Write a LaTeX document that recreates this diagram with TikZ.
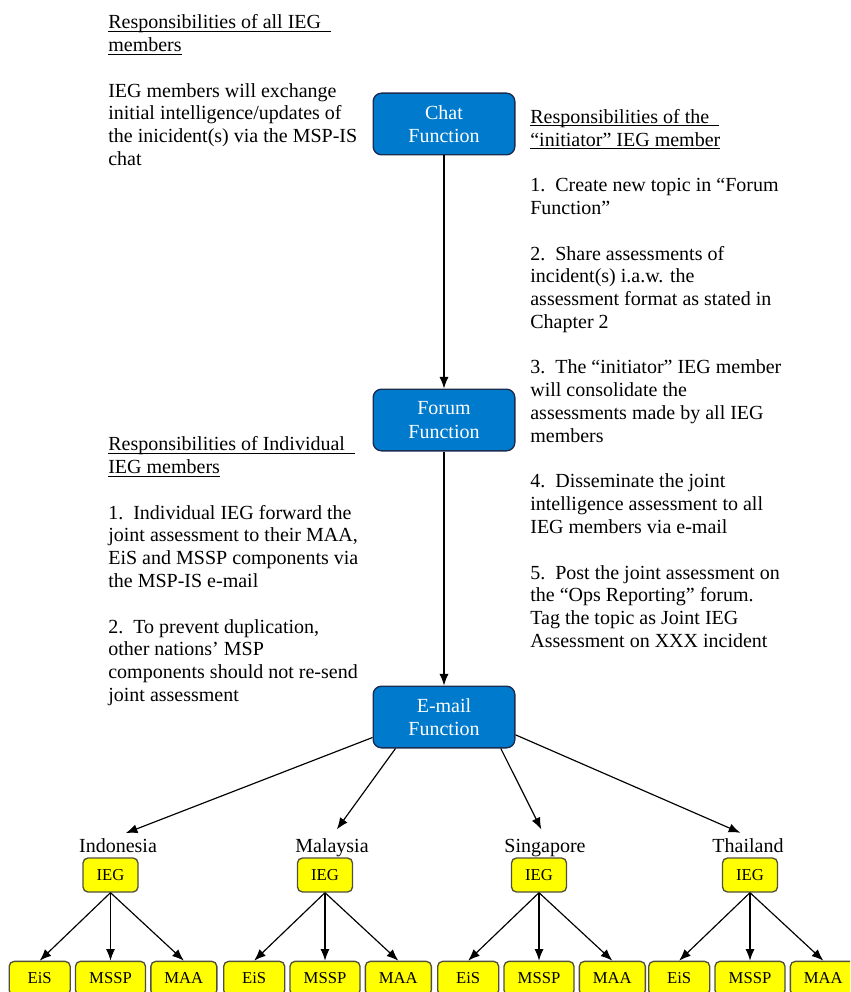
\documentclass[tikz,border=0pt]{standalone}
\usepackage{fontspec}
\setmainfont{Liberation Serif}
\usepackage{xcolor}
\usetikzlibrary{positioning}
\usetikzlibrary{arrows.meta}
\definecolor{funcblue}{RGB}{0,122,204}
\definecolor{funcline}{RGB}{25,45,80}
\definecolor{iegyellow}{RGB}{255,255,0}
\definecolor{iegline}{RGB}{80,80,60}
\newcommand{\ulhead}[1]{\underline{\smash{#1}}}

\begin{document}
\begin{tikzpicture}[x=0.6pt,y=-0.6pt]

                \def\d{40.8pt}
                \def\g{2.4pt}

                % Looks of the boxes, the notes and the arrows
                \tikzset{
                    func/.style={draw=funcline, fill=funcblue, text=white,
                        rounded corners=5pt, thick, minimum width=85pt,
                        minimum height=37pt, align=center,
                        font=\fontsize{12}{14}\selectfont},
                    box/.style={draw=iegline, fill=iegyellow, thick,
                        rounded corners=3pt, minimum height=20.4pt,
                        inner sep=0pt, font=\fontsize{10}{12}\selectfont},
                    iegbox/.style={box, minimum width=33pt},
                    eisbox/.style={box, minimum width=36.6pt},
                    msspbox/.style={box, minimum width=42pt},
                    maabox/.style={box, minimum width=39.6pt},
                    note/.style={anchor=north west, inner sep=0pt,
                        align=left, font=\fontsize{12}{13.67}\selectfont},
                    nation/.style={anchor=base, inner sep=1pt,
                        font=\fontsize{12}{14}\selectfont},
                    arr/.style={-{Latex[length=7pt,width=5.5pt]},
                        line width=0.7pt}
                }

                \clip (0,0) rectangle (850,992);

                % The three functions
                \node[func] (chat) at (444,124) {Chat\\Function};
                \node[func] (forum) at (444,420) {Forum\\Function};
                \node[func] (email) at (444,717) {E-mail\\Function};

                % Notes beside the functions
                \node[note] (allnote) at (108,28.5)
                {\ulhead{Responsibilities of all IEG\ \ }\\
                 \ulhead{members}\\[13.67pt]
                 IEG members will exchange\\
                 initial intelligence/updates of\\
                 the inicident(s) via the MSP-IS\\
                 chat};
                \node[note] (initnote) at (530,123)
                {\ulhead{Responsibilities of the\ \ }\\
                 \ulhead{“initiator” IEG member}\\[13.67pt]
                 1.\ \ Create new topic in “Forum\\
                 Function”\\[13.67pt]
                 2.\ \ Share assessments of\\
                 incident(s) i.a.w. the\\
                 assessment format as stated in\\
                 Chapter 2\\[13.67pt]
                 3.\ \ The “initiator” IEG member\\
                 will consolidate the\\
                 assessments made by all IEG\\
                 members\\[13.67pt]
                 4.\ \ Disseminate the joint\\
                 intelligence assessment to all\\
                 IEG members via e-mail\\[13.67pt]
                 5.\ \ Post the joint assessment on\\
                 the “Ops Reporting” forum.\\
                 Tag the topic as Joint IEG\\
                 Assessment on XXX incident};
                \node[note] (indivnote) at (108,450.5)
                {\ulhead{Responsibilities of Individual\ \ }\\
                 \ulhead{IEG members}\\[13.67pt]
                 1.\ \ Individual IEG forward the\\
                 joint assessment to their MAA,\\
                 EiS and MSSP components via\\
                 the MSP-IS e-mail\\[13.67pt]
                 2.\ \ To prevent duplication,\\
                 other nations' MSP\\
                 components should not re-send\\
                 joint assessment};

                % Nations
                \node[nation] (indo) at (118,852) {Indonesia};
                \node[nation] (malay) at (332,852) {Malaysia};
                \node[nation] (singa) at (545,852) {Singapore};
                \node[nation] (thai) at (748,852) {Thailand};

                \node[iegbox] (ieg-indo) at (110.5,875) {IEG};
                \node[iegbox] (ieg-malay) at (325,875) {IEG};
                \node[iegbox] (ieg-singa) at (539,875) {IEG};
                \node[iegbox] (ieg-thai) at (750,875) {IEG};

                \node[msspbox] (mssp-indo) [below=\d of ieg-indo] {MSSP};
                \node[eisbox] (eis-indo) [left=\g of mssp-indo] {EiS};
                \node[maabox] (maa-indo) [right=\g of mssp-indo] {MAA};

                \node[msspbox] (mssp-malay) [below=\d of ieg-malay] {MSSP};
                \node[eisbox] (eis-malay) [left=\g of mssp-malay] {EiS};
                \node[maabox] (maa-malay) [right=\g of mssp-malay] {MAA};

                \node[msspbox] (mssp-singa) [below=\d of ieg-singa] {MSSP};
                \node[eisbox] (eis-singa) [left=\g of mssp-singa] {EiS};
                \node[maabox] (maa-singa) [right=\g of mssp-singa] {MAA};

                \node[msspbox] (mssp-thai) [below=\d of ieg-thai] {MSSP};
                \node[eisbox] (eis-thai) [left=\g of mssp-thai] {EiS};
                \node[maabox] (maa-thai) [right=\g of mssp-thai] {MAA};

                \begin{scope}[arr]
                    \draw (chat) -- (forum);
                    \draw (forum) -- (email);
                    \draw[shorten >=5pt] (email.196) -- (indo.north);
                    \draw[shorten >=5pt] (email.213) -- (malay.north);
                    \draw[shorten >=5pt] (email.331) -- (singa.north);
                    \draw[shorten >=5pt] (email.346) -- (thai.north);
                    \draw (ieg-indo.south) -- (eis-indo.north);
                    \draw (ieg-indo.south) -- (mssp-indo.north);
                    \draw (ieg-indo.south) -- (maa-indo.north);
                    \draw (ieg-malay.south) -- (eis-malay.north);
                    \draw (ieg-malay.south) -- (mssp-malay.north);
                    \draw (ieg-malay.south) -- (maa-malay.north);
                    \draw (ieg-singa.south) -- (eis-singa.north);
                    \draw (ieg-singa.south) -- (mssp-singa.north);
                    \draw (ieg-singa.south) -- (maa-singa.north);
                    \draw (ieg-thai.south) -- (eis-thai.north);
                    \draw (ieg-thai.south) -- (mssp-thai.north);
                    \draw (ieg-thai.south) -- (maa-thai.north);
                \end{scope}

\end{tikzpicture}
\end{document}
